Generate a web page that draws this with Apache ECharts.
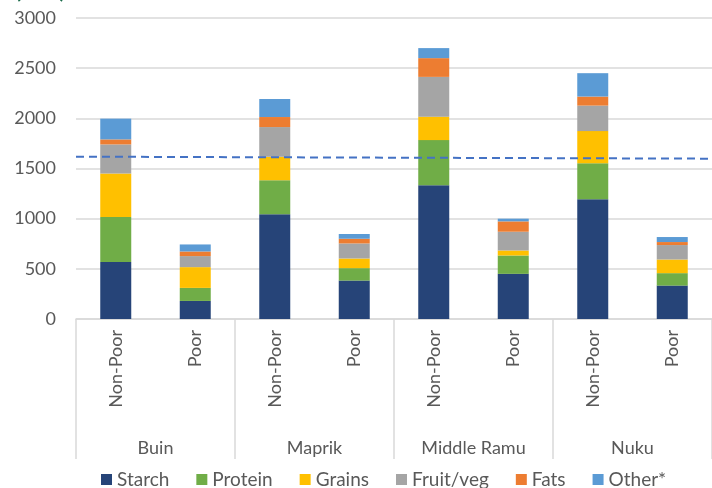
<!DOCTYPE html>
<html>
<head>
<meta charset="utf-8">
<script src="https://cdn.jsdelivr.net/npm/echarts@6/dist/echarts.min.js"></script>
<style>
  html, body { margin: 0; padding: 0; background: #fff; }
  #chart { width: 712px; height: 488px; }
</style>
</head>
<body>
<div id="chart"></div>
<script>
// 分类
var regions = ['Buin', 'Maprik', 'Middle Ramu', 'Nuku'];
var groups = ['Non-Poor', 'Poor'];
var yTicks = [0, 500, 1000, 1500, 2000, 2500, 3000];

// 每个柱子的数值（顺序：Buin NP, Buin P, Maprik NP, Maprik P, MR NP, MR P, Nuku NP, Nuku P）
var starch  = [567, 180, 1043, 383, 1333, 450, 1193, 333];
var protein = [450, 130, 340, 124, 450, 183, 360, 124];
var grains  = [433, 207, 234, 96, 234, 50, 320, 136];
var fruit   = [290, 110, 296, 150, 396, 187, 254, 144];
var fats    = [50, 46, 100, 47, 187, 103, 90, 30];
var other   = [207, 70, 180, 47, 100, 27, 233, 50];

// 虚线参考线（左端、右端）
var refLine = [1618, 1598];

var seriesNames = ['Starch', 'Protein', 'Grains', 'Fruit/veg', 'Fats', 'Other*'];
var seriesData = [starch, protein, grains, fruit, fats, other];
var colors = ['#264478', '#70AD47', '#FFC000', '#A5A5A5', '#ED7D31', '#5B9BD5'];

var cats = [];
regions.forEach(function(r) {
    groups.forEach(function(g) {
        cats.push(g);
    });
});

var font = 'Lato, "Open Sans", sans-serif';
var chart = echarts.init(document.getElementById('chart'));

var series = seriesNames.map(function(name, i) {
    return {
        name: name,
        type: 'bar',
        stack: 'total',
        barWidth: 31,
        xAxisIndex: 0,
        itemStyle: { color: colors[i] },
        data: seriesData[i]
    };
});
series.push({
    name: 'ref',
    type: 'line',
    xAxisIndex: 2,
    symbol: 'none',
    silent: true,
    lineStyle: { color: '#4472C4', width: 2, type: [8, 5] },
    data: refLine
});

var option = {
    animation: false,
    title: {
        text: '(kcal)',
        left: 10,
        top: -25,
        textStyle: { color: '#1a6b4a', fontSize: 22, fontWeight: 'bold', fontFamily: font }
    },
    grid: { left: 76, top: 18, width: 642, bottom: 169 },
    legend: {
        data: seriesNames,
        bottom: -6,
        left: 96,
        icon: 'rect',
        itemWidth: 11,
        itemHeight: 11,
        itemGap: 27,
        textStyle: { color: '#595959', fontSize: 19, fontFamily: font }
    },
    xAxis: [{
        type: 'category',
        data: cats,
        axisLine: { lineStyle: { color: '#d9d9d9', width: 1.5 } },
        axisTick: { show: false },
        axisLabel: { rotate: 90, margin: 11, color: '#595959', fontSize: 18, fontFamily: font }
    }, {
        type: 'category',
        position: 'bottom',
        data: regions,
        axisLine: { show: false },
        axisTick: { show: true, length: 140, lineStyle: { color: '#d9d9d9', width: 1.5 } },
        axisLabel: { margin: 120, color: '#595959', fontSize: 18, fontFamily: font }
    }, {
        type: 'category',
        data: ['start', 'end'],
        boundaryGap: false,
        show: false
    }],
    yAxis: {
        type: 'value',
        min: yTicks[0],
        max: yTicks[yTicks.length - 1],
        interval: 500,
        axisLine: { show: false },
        axisTick: { show: false },
        splitLine: { lineStyle: { color: '#d9d9d9', width: 1.5 } },
        axisLabel: {
            margin: 20, color: '#595959', fontSize: 18, fontFamily: font,
            formatter: function(v) { return String(v); }
        }
    },
    series: series
};
chart.setOption(option);
</script>
</body>
</html>
